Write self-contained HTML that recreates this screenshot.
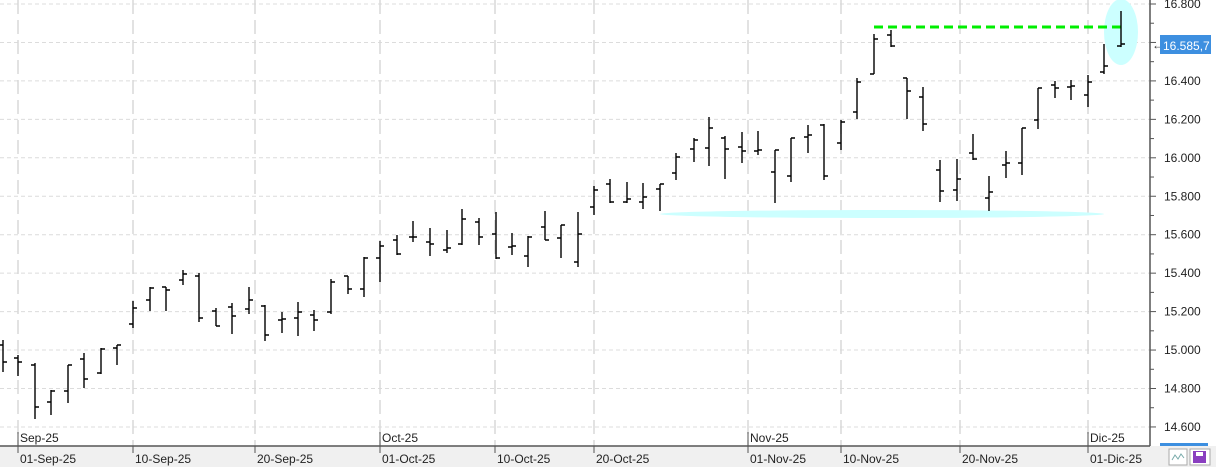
<!DOCTYPE html>
<html><head><meta charset="utf-8"><style>
html,body{margin:0;padding:0;background:#fff}
svg{display:block;font-family:"Liberation Sans",sans-serif}
</style></head><body>
<svg id="s" width="1216" height="467" viewBox="0 0 1216 467" xmlns="http://www.w3.org/2000/svg">
<rect x="0" y="0" width="1216" height="467" fill="#fff"/>
<g id="grid" stroke="#dcdcdc" stroke-width="1" stroke-dasharray="4,3"></g>
<g id="vgrid" stroke="#d8d8d8" stroke-width="1.5" stroke-dasharray="14,6"></g>
<ellipse cx="882" cy="214" rx="222" ry="4" fill="#ccffff"/>
<ellipse cx="1121" cy="32" rx="17" ry="33" fill="#ccffff"/>
<line x1="874" y1="27" x2="1121" y2="27" stroke="#00ee00" stroke-width="3" stroke-dasharray="9,5"/>
<g id="bars" stroke="#000" stroke-width="1.4" fill="none"></g>
<rect x="0" y="446" width="1216" height="21" fill="#f0f0f0"/>
<line x1="0" y1="446" x2="1150" y2="446" stroke="#555" stroke-width="1.5"/>
<line x1="1150" y1="0" x2="1150" y2="446" stroke="#555" stroke-width="1.5"/>
<g id="axis" font-size="12" fill="#222"></g>
<g id="xlab" font-size="12" fill="#222"></g>
<text x="1152" y="49" font-size="12" fill="#333">←</text>
<rect x="1160" y="35" width="51" height="19" fill="#3d8fe0"/>
<text x="1163" y="50" font-size="12" fill="#fff">16.585,7</text>
<rect x="1169" y="449" width="18" height="16" fill="#fff" stroke="#aaa"/>
<polyline points="1172,460 1175,455 1178,459 1181,454 1184,458" stroke="#7aa" fill="none"/>
<rect x="1190" y="449" width="20" height="16" fill="#fff" stroke="#aaa"/>
<rect x="1193" y="451" width="13" height="12" fill="#8a3fc0"/>
<rect x="1196" y="452" width="7" height="4" fill="#fff"/>
<rect x="1160" y="443" width="48" height="3" fill="#3d8fe0"/>
</svg>
<script>
var NS="http://www.w3.org/2000/svg";
function el(p,t,a,txt){var e=document.createElementNS(NS,t);for(var k in a)e.setAttribute(k,a[k]);if(txt)e.textContent=txt;document.getElementById(p).appendChild(e);}
function Y(v){return 4+(16800-v)/200*38.45;}
for(var v=14600;v<=16800;v+=200){var y=Y(v);el("grid","line",{x1:0,y1:y,x2:1150,y2:y});
el("axis","line",{x1:1150,y1:y,x2:1156,y2:y,stroke:"#555"});
el("axis","text",{x:1164,y:y+4},(v/1000).toFixed(3));}
for(var v=14700;v<=16700;v+=200){var y=Y(v);el("axis","line",{x1:1150,y1:y,x2:1154,y2:y,stroke:"#555"});}
var vx=[18,133,255,380,495,594,748,841,960,1088];
vx.forEach(function(x){el("vgrid","line",{x1:x,y1:0,x2:x,y2:446});});
var days=[[18,"01-Sep-25"],[133,"10-Sep-25"],[255,"20-Sep-25"],[380,"01-Oct-25"],[495,"10-Oct-25"],[594,"20-Oct-25"],[748,"01-Nov-25"],[841,"10-Nov-25"],[960,"20-Nov-25"],[1088,"01-Dic-25"]];
days.forEach(function(d){el("xlab","line",{x1:d[0],y1:446,x2:d[0],y2:453,stroke:"#555"});el("xlab","text",{x:d[0]+2,y:463},d[1]);});
[[18,"Sep-25"],[380,"Oct-25"],[748,"Nov-25"],[1088,"Dic-25"]].forEach(function(d){el("xlab","line",{x1:d[0],y1:432,x2:d[0],y2:446,stroke:"#555"});el("xlab","text",{x:d[0]+2,y:442},d[1]);});
var B=[[3,340,372,345,362],[18,355,376,358,362],[35,363,419,365,407],[51,390,415,402,391],[68,365,403,391,365],[84,353,388,359,379],[101,348,374,373,349],[117,345,365,348,345],[133,301,328,324,308],[150,287,311,300,288],[166,287,311,287,290],[183,270,285,280,274],[199,273,322,276,318],[216,308,326,311,326],[232,303,334,307,316],[249,287,314,309,300],[265,305,341,306,335],[282,312,333,320,319],[298,302,336,318,312],[314,310,331,315,320],[331,279,314,312,282],[348,276,294,276,289],[364,257,297,289,258],[380,241,282,258,246],[397,235,255,240,254],[413,221,242,237,237],[430,228,256,242,244],[447,230,253,250,248],[462,209,245,244,219],[479,218,245,222,237],[496,212,259,234,258],[512,233,255,247,246],[528,236,267,256,237],[545,211,240,227,240],[561,225,258,238,225],[578,212,267,262,234],[594,186,215,207,190],[610,179,203,184,202],[627,182,203,202,199],[643,183,209,202,197],[660,184,211,189,184],[676,153,180,173,157],[694,138,162,149,140],[709,117,166,148,128],[725,136,179,138,149],[742,132,163,147,151],[758,131,155,151,150],[775,150,203,172,150],[791,138,182,176,138],[808,125,153,137,135],[824,124,180,125,176],[841,120,150,143,122],[857,78,119,112,82],[874,34,74,74,39],[891,30,47,35,46],[907,78,119,78,91],[923,87,131,97,124],[940,160,202,170,191],[957,159,201,190,179],[973,134,160,153,159],[989,176,211,198,192],[1006,151,178,165,163],[1022,128,175,163,128],[1038,88,129,120,88],[1055,81,98,85,88],[1071,80,100,87,86],[1088,75,107,95,82],[1104,44,74,72,66],[1121,11,47,46,44]];
var d="";B.forEach(function(b){d+="M"+b[0]+" "+b[1]+"V"+b[2]+"M"+(b[0]-4)+" "+b[3]+"H"+b[0]+"M"+b[0]+" "+b[4]+"H"+(b[0]+4);});
el("bars","path",{d:d});
</script>
</body></html>
